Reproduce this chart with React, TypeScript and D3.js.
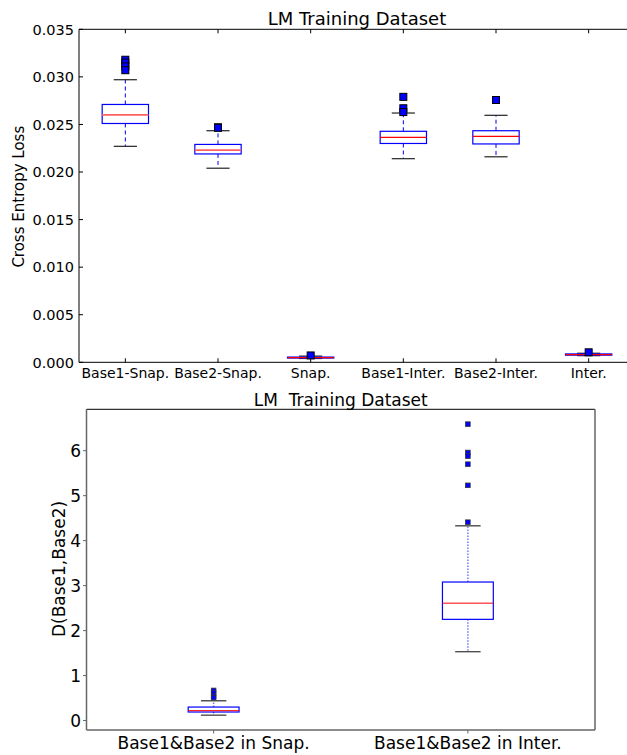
import React from "react";
import * as d3 from "d3";

// ---------- Top chart data ----------
const categoriesTop = ["Base1-Snap.", "Base2-Snap.", "Snap.", "Base1-Inter.", "Base2-Inter.", "Inter."];
const whiskerLowTop = [0.0227, 0.0204, 0.0004, 0.0214, 0.0216, 0.0007];
const q1Top = [0.0251, 0.0219, 0.00045, 0.0230, 0.02295, 0.00075];
const medianTop = [0.0260, 0.0223, 0.0005, 0.02365, 0.02375, 0.0008];
const q3Top = [0.0271, 0.0229, 0.00055, 0.02428, 0.02434, 0.00088];
const whiskerHighTop = [0.0297, 0.02434, 0.00065, 0.0262, 0.02596, 0.00095];
const outliersTop = [
  [0.0318, 0.0315, 0.0311, 0.0307],
  [0.0247, 0.02465],
  [0.00072],
  [0.0279, 0.0267, 0.0263],
  [0.02757],
  [0.00105],
];
const yTicksTop = [0, 0.005, 0.01, 0.015, 0.02, 0.025, 0.03, 0.035];

// ---------- Bottom chart data ----------
const categoriesBottom = ["Base1&Base2 in Snap.", "Base1&Base2 in Inter."];
const whiskerLowBottom = [0.12, 1.53];
const q1Bottom = [0.19, 2.25];
const medianBottom = [0.22, 2.61];
const q3Bottom = [0.30, 3.08];
const whiskerHighBottom = [0.44, 4.33];
const outliersBottom = [
  [0.67, 0.62, 0.54, 0.51],
  [6.59, 5.96, 5.88, 5.7, 5.23, 4.41],
];
const yTicksBottom = [0, 1, 2, 3, 4, 5, 6];

const FONT = "DejaVu Sans, sans-serif";

function TopChart() {
  const x = d3.scaleLinear().domain([0.5, 6.5]).range([79, 635]);
  const y = d3.scaleLinear().domain([0, 0.035]).range([362.3, 29.3]);
  const step = x(2) - x(1);
  const boxW = step * 0.5;
  const capW = step * 0.25;
  const [x0, x1] = x.range();
  const [yb, yt] = y.range();
  const fmt = d3.format(".3f");
  return (
    <g>
      <text x={(x0 + x1) / 2} y={25} textAnchor="middle" fontSize={18} fontFamily={FONT}>
        LM Training Dataset
      </text>
      {categoriesTop.map((c, i) => {
        const cx = x(i + 1);
        return (
          <g key={c}>
            <line x1={cx} x2={cx} y1={y(q3Top[i])} y2={y(whiskerHighTop[i])} stroke="#0000ff" strokeDasharray="4,3" strokeWidth={1} />
            <line x1={cx} x2={cx} y1={y(q1Top[i])} y2={y(whiskerLowTop[i])} stroke="#0000ff" strokeDasharray="4,3" strokeWidth={1} />
            <line x1={cx - capW / 2} x2={cx + capW / 2} y1={y(whiskerHighTop[i])} y2={y(whiskerHighTop[i])} stroke="#222" strokeWidth={1.2} />
            <line x1={cx - capW / 2} x2={cx + capW / 2} y1={y(whiskerLowTop[i])} y2={y(whiskerLowTop[i])} stroke="#222" strokeWidth={1.2} />
            <rect x={cx - boxW / 2} y={y(q3Top[i])} width={boxW} height={Math.max(1, y(q1Top[i]) - y(q3Top[i]))} fill="none" stroke="#0000ff" strokeWidth={1.2} />
            <line x1={cx - boxW / 2} x2={cx + boxW / 2} y1={y(medianTop[i])} y2={y(medianTop[i])} stroke={i < 2 ? "#ff6060" : "#ff0000"} strokeWidth={i < 2 ? 1.8 : 1.2} />
            {outliersTop[i].map((v, j) => (
              <rect key={j} x={cx - 3.5} y={y(v) - 3.5} width={7} height={7} fill="#0000ff" stroke="#000" strokeWidth={1} />
            ))}
          </g>
        );
      })}
      {/* spines */}
      <line x1={x0} x2={x0} y1={yt} y2={yb} stroke="#000" strokeWidth={1} />
      <line x1={x0} x2={x1} y1={yb} y2={yb} stroke="#000" strokeWidth={1} />
      <line x1={x0} x2={x1} y1={yt} y2={yt} stroke="#000" strokeWidth={1} />
      <line x1={x1} x2={x1} y1={yt} y2={yb} stroke="#000" strokeWidth={1} />
      {yTicksTop.map((t) => (
        <g key={t}>
          <line x1={x0} x2={x0 + 4} y1={y(t)} y2={y(t)} stroke="#000" />
          <text x={74} y={y(t) + 5.2} textAnchor="end" fontSize={14.5} fontFamily={FONT}>
            {fmt(t)}
          </text>
        </g>
      ))}
      {categoriesTop.map((c, i) => (
        <g key={c}>
          <line x1={x(i + 1)} x2={x(i + 1)} y1={yb} y2={yb - 4} stroke="#000" />
          <line x1={x(i + 1)} x2={x(i + 1)} y1={yt} y2={yt + 4} stroke="#000" />
          <text x={x(i + 1)} y={378} textAnchor="middle" fontSize={14} fontFamily={FONT}>
            {c}
          </text>
        </g>
      ))}
      <text transform={`translate(24,196.7) rotate(-90)`} textAnchor="middle" fontSize={15} fontFamily={FONT}>
        Cross Entropy Loss
      </text>
    </g>
  );
}

function BottomChart() {
  const x = d3.scaleLinear().domain([0.5, 2.5]).range([86.5, 595]);
  const y = d3.scaleLinear().domain([-0.21, 6.92]).range([730, 409.3]);
  const step = x(2) - x(1);
  const boxW = step * 0.2;
  const capW = step * 0.1;
  const [x0, x1] = x.range();
  const [yb, yt] = y.range();
  const spine = "#666";
  return (
    <g>
      <text x={(x0 + x1) / 2} y={405.5} textAnchor="middle" fontSize={17} fontFamily={FONT} style={{ whiteSpace: "pre" }}>
        {"LM  Training Dataset"}
      </text>
      {categoriesBottom.map((c, i) => {
        const cx = x(i + 1);
        return (
          <g key={c}>
            <line x1={cx} x2={cx} y1={y(q3Bottom[i])} y2={y(whiskerHighBottom[i])} stroke="#7777ff" strokeDasharray="1.5,1.5" strokeWidth={1.5} />
            <line x1={cx} x2={cx} y1={y(q1Bottom[i])} y2={y(whiskerLowBottom[i])} stroke="#7777ff" strokeDasharray="1.5,1.5" strokeWidth={1.5} />
            <line x1={cx - capW / 2} x2={cx + capW / 2} y1={y(whiskerHighBottom[i])} y2={y(whiskerHighBottom[i])} stroke="#555" strokeWidth={1.5} />
            <line x1={cx - capW / 2} x2={cx + capW / 2} y1={y(whiskerLowBottom[i])} y2={y(whiskerLowBottom[i])} stroke="#333" strokeWidth={1.2} />
            <rect x={cx - boxW / 2} y={y(q3Bottom[i])} width={boxW} height={y(q1Bottom[i]) - y(q3Bottom[i])} fill="none" stroke="#0000ff" strokeWidth={1.2} />
            <line x1={cx - boxW / 2} x2={cx + boxW / 2} y1={y(medianBottom[i])} y2={y(medianBottom[i])} stroke="#ff0000" strokeWidth={1} />
            {outliersBottom[i].map((v, j) => (
              <rect key={j} x={cx - 2.3} y={y(v) - 2.3} width={4.6} height={4.6} fill="#0000ff" stroke="#333" strokeWidth={0.8} />
            ))}
          </g>
        );
      })}
      <line x1={x0} x2={x1} y1={yt} y2={yt} stroke="#000" strokeWidth={1} />
      <line x1={x0} x2={x0} y1={yt} y2={yb} stroke={spine} strokeWidth={1.5} />
      <line x1={x1} x2={x1} y1={yt} y2={yb} stroke={spine} strokeWidth={1.5} />
      <line x1={x0} x2={x1} y1={yb} y2={yb} stroke={spine} strokeWidth={1.5} />
      {yTicksBottom.map((t) => (
        <g key={t}>
          <line x1={x0} x2={x0 - 3.5} y1={y(t)} y2={y(t)} stroke={spine} />
          <text x={81} y={y(t) + 6.2} textAnchor="end" fontSize={17} fontFamily={FONT}>
            {t}
          </text>
        </g>
      ))}
      {categoriesBottom.map((c, i) => (
        <g key={c}>
          <line x1={x(i + 1)} x2={x(i + 1)} y1={yb} y2={yb + 3.5} stroke={spine} />
          <text x={x(i + 1)} y={748.5} textAnchor="middle" fontSize={17} fontFamily={FONT}>
            {c}
          </text>
        </g>
      ))}
      <text transform={`translate(65,569) rotate(-90)`} textAnchor="middle" fontSize={17} fontFamily={FONT}>
        D(Base1,Base2)
      </text>
    </g>
  );
}

export default function App() {
  return (
    <svg
      width={627}
      height={755}
      style={{ position: "absolute", left: 0, top: 0, background: "#fff" }}
    >
      <rect x={0} y={0} width={627} height={755} fill="#fff" />
      <TopChart />
      <BottomChart />
    </svg>
  );
}
